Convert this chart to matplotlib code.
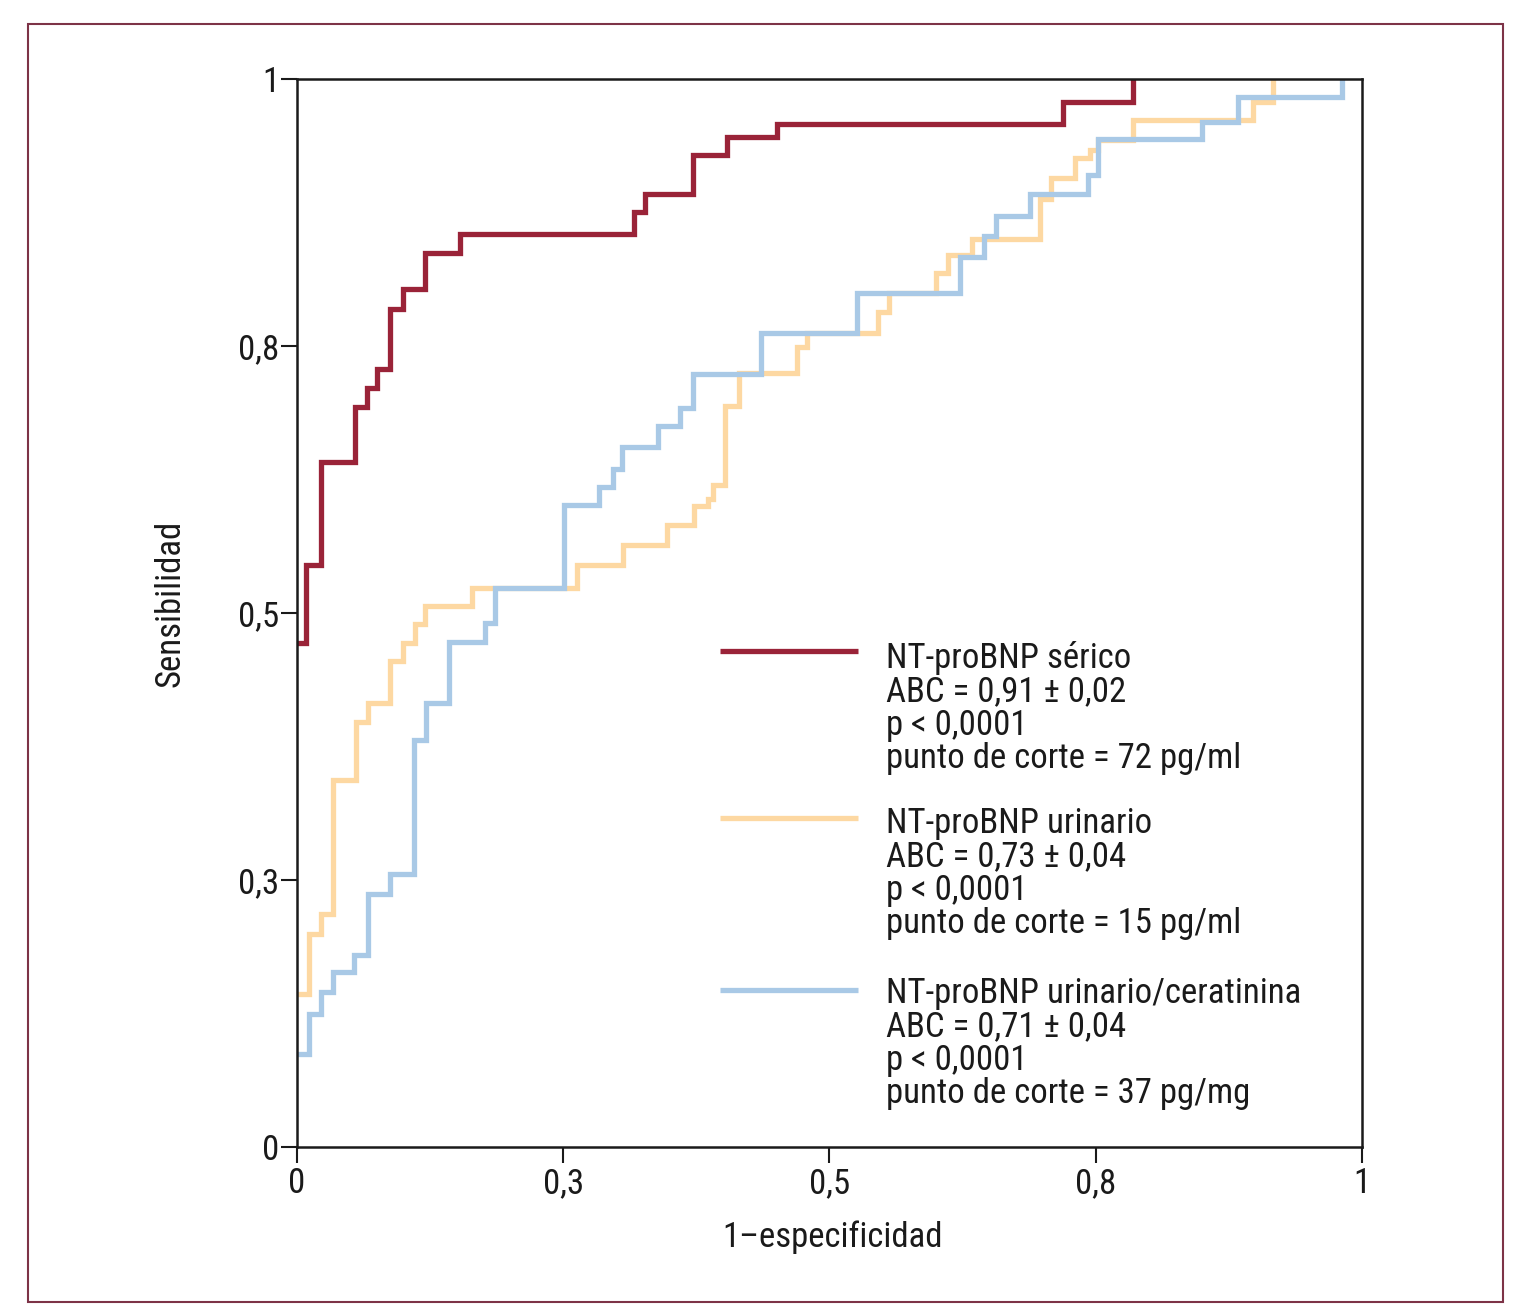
import matplotlib
matplotlib.use('Agg')
import matplotlib.pyplot as plt
from matplotlib import font_manager
from matplotlib.patches import Rectangle

# condensed face if available, else a regular sans at a smaller size
installed = {f.name for f in font_manager.fontManager.ttflist}
if 'Roboto Condensed' in installed:
    plt.rcParams['font.family'] = ['Roboto Condensed', 'DejaVu Sans']
    fs = 25
else:
    plt.rcParams['font.family'] = ['Liberation Sans', 'DejaVu Sans']
    fs = 21.5

# ROC corner points: (1-especificidad, sensibilidad)
serico_x = [0, 0.0085, 0.023, 0.0545, 0.066, 0.075, 0.087, 0.0995, 0.120, 0.153,
            0.3165, 0.327, 0.372, 0.404, 0.451, 0.7196, 0.7847]
serico_y = [0.472, 0.5446, 0.641, 0.693, 0.711, 0.728, 0.785, 0.803, 0.837, 0.855,
            0.875, 0.892, 0.929, 0.946, 0.958, 0.978, 1.0]

urinario_x = [0, 0.011, 0.023, 0.034, 0.055, 0.0667, 0.087, 0.100, 0.1107, 0.120,
              0.164, 0.2626, 0.306, 0.347, 0.3727, 0.3856, 0.391, 0.402, 0.415,
              0.4698, 0.4786, 0.5458, 0.556, 0.600, 0.6116, 0.6335, 0.6977, 0.7077,
              0.7305, 0.7446, 0.752, 0.785, 0.898, 0.9167]
urinario_y = [0.1437, 0.199, 0.2185, 0.344, 0.398, 0.416, 0.455, 0.4715, 0.49, 0.507,
              0.523, 0.545, 0.564, 0.582, 0.600, 0.607, 0.6196, 0.694, 0.725,
              0.7488, 0.7619, 0.782, 0.7993, 0.818, 0.835, 0.850, 0.888, 0.907,
              0.9257, 0.9335, 0.943, 0.9616, 0.978, 1.0]

creat_x = [0, 0.011, 0.023, 0.0336, 0.054, 0.0667, 0.087, 0.110, 0.121, 0.143,
           0.1767, 0.1855, 0.251, 0.2836, 0.2964, 0.305, 0.3387, 0.3596, 0.372,
           0.4354, 0.5255, 0.623, 0.645, 0.656, 0.688, 0.743, 0.752, 0.850, 0.884,
           0.981]
creat_y = [0.0874, 0.125, 0.1456, 0.1637, 0.18, 0.237, 0.2556, 0.3815, 0.416, 0.4726,
           0.491, 0.523, 0.601, 0.618, 0.635, 0.655, 0.675, 0.692, 0.724,
           0.7619, 0.7993, 0.833, 0.8526, 0.8717, 0.892, 0.910, 0.9435, 0.960, 0.983,
           1.0]

series_names = ['NT-proBNP sérico', 'NT-proBNP urinario', 'NT-proBNP urinario/ceratinina']
abc_values = ['0,91 ± 0,02', '0,73 ± 0,04', '0,71 ± 0,04']
p_values = ['0,0001', '0,0001', '0,0001']
cutoffs = ['72 pg/ml', '15 pg/ml', '37 pg/mg']

tick_pos = [0, 0.25, 0.5, 0.75, 1]
tick_labels = ['0', '0,3', '0,5', '0,8', '1']

colors = ['#9a2338', '#fdd8a2', '#a9c9e6']
border_color = '#7d3347'
ink = '#1a1a1a'

fig = plt.figure(figsize=(15.29, 13.16), dpi=100, facecolor='white')
ax = fig.add_axes([0.1942, 0.1284, 0.6966, 0.8116])

line_kw = dict(where='post', linewidth=3.8, solid_joinstyle='miter', solid_capstyle='butt')
ax.step(urinario_x, urinario_y, color=colors[1], zorder=2, **line_kw)
ax.step(creat_x, creat_y, color=colors[2], zorder=2.1, **line_kw)
ax.step(serico_x, serico_y, color=colors[0], zorder=2.2, **line_kw)

ax.set_xlim(0, 1)
ax.set_ylim(0, 1)
ax.set_xticks(tick_pos)
ax.set_xticklabels(tick_labels)
ax.set_yticks(tick_pos)
ax.set_yticklabels(tick_labels)
ax.tick_params(direction='out', length=11.5, width=1.5, labelsize=fs, colors=ink)
ax.tick_params(axis='x', pad=3)
ax.tick_params(axis='y', pad=1)
for sp in ax.spines.values():
    sp.set_linewidth(1.8)
    sp.set_color(ink)
    sp.set_zorder(3)

ax.text(-0.119, 0.509, 'Sensibilidad', rotation=90, ha='center', va='center',
        fontsize=fs, color=ink, transform=ax.transAxes)
ax.text(0.503, -0.0843, '1–especificidad', ha='center', va='center',
        fontsize=fs, color=ink, transform=ax.transAxes)

# manual legend: handle line + four text lines per curve
handle_y = [0.4644, 0.308, 0.147]
first_base = [0.4485, 0.294, 0.1348]
step = 0.0312
for i in range(3):
    ax.plot([0.397, 0.527], [handle_y[i]] * 2, color=colors[i], linewidth=3.8,
            solid_capstyle='butt', transform=ax.transAxes)
    lines = [series_names[i], 'ABC = ' + abc_values[i], 'p < ' + p_values[i],
             'punto de corte = ' + cutoffs[i]]
    for k, t in enumerate(lines):
        ax.text(0.553, first_base[i] - k * step, t, ha='left', va='baseline',
                fontsize=fs, color=ink, transform=ax.transAxes)

# outer frame
fig.patches.append(Rectangle((0.0183, 0.0106), 0.9647, 0.9711, transform=fig.transFigure,
                             fill=False, edgecolor=border_color, linewidth=1.5))

fig.savefig('out.png', dpi=100, facecolor='white')
